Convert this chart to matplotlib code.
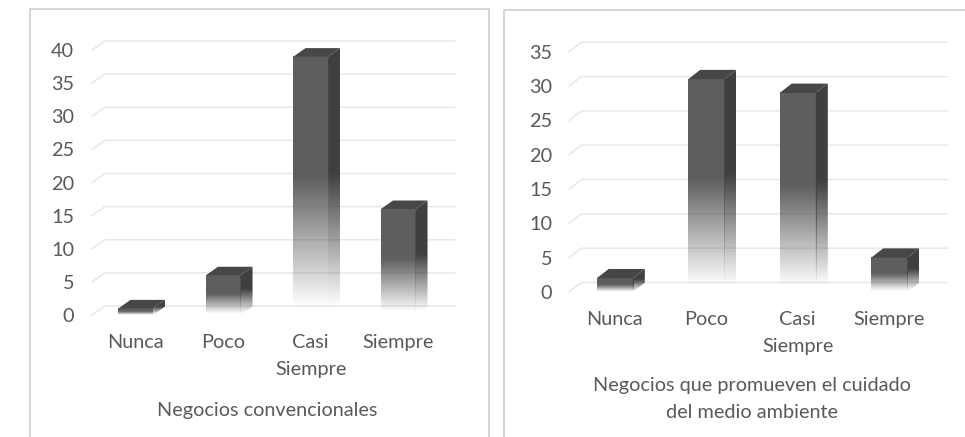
import matplotlib
matplotlib.use('Agg')
import matplotlib.pyplot as plt
import numpy as np
from matplotlib.patches import Polygon, Rectangle

# survey answers per business type
categories = ['Nunca', 'Poco', 'Casi\nSiempre', 'Siempre']
convencionales = [1, 6, 39, 16]
ambientales = [2, 31, 29, 5]
ticks_left = [0, 5, 10, 15, 20, 25, 30, 35, 40]
ticks_right = [0, 5, 10, 15, 20, 25, 30, 35]
title_left = 'Negocios convencionales'
title_right = 'Negocios que promueven el cuidado\ndel medio ambiente'

W, H, DPI = 965, 437, 100
plt.rcParams['font.family'] = ['Lato', 'DejaVu Sans']
TEXT = '#595959'
GRID = '#e6e6e6'
BORDER = '#d2d2d2'
FRONT = (0.37, 0.37, 0.37)
SIDE = (0.25, 0.25, 0.25)
TOP = (0.28, 0.28, 0.28)
FS = 14.3

fig = plt.figure(figsize=(W / DPI, H / DPI), dpi=DPI)


def px_rect(x0, y0, x1, y1):
    # pixel box (origin top-left) -> figure fraction rect
    return [x0 / W, 1 - y1 / H, (x1 - x0) / W, (y1 - y0) / H]


def fade(color, n=200):
    # solid on the upper half, fading out towards the floor
    t = np.linspace(0, 1, n)
    a = np.clip((t - 0.03) / 0.5, 0, 1)
    img = np.zeros((n, 1, 4))
    img[:, 0, :3] = color
    img[:, 0, 3] = a
    return img


def panel(front_px, ymax, values, ticks, title, floor_px, depth_px, tpad, lpad):
    fx0, fx1, fy0, fytop = front_px
    ppu = (fy0 - fytop) / ymax
    ppx = (fx1 - fx0) / len(values)
    ytop = ymax + 3
    ax = fig.add_axes(px_rect(fx0, fy0 - ytop * ppu, fx1, fy0))
    ax.set_facecolor('none')
    for s in ax.spines.values():
        s.set_visible(False)

    gdx, gdy = floor_px[0] / ppx, floor_px[1] / ppu
    bdx, bdy = depth_px[0] / ppx, depth_px[1] / ppu
    n = len(values)

    # back wall + floor edge gridlines
    for v in ticks:
        ax.plot([-0.5, -0.5 + gdx, n - 0.5 + gdx], [v, v + gdy, v + gdy],
                color=GRID, lw=1.0, clip_on=False, zorder=0.5)

    w = 0.395
    for i, v in enumerate(values):
        x0, x1 = i - w / 2, i + w / 2
        ax.imshow(fade(FRONT), extent=(x0, x1, 0, v), origin='lower',
                  aspect='auto', interpolation='bilinear', zorder=2)
        side = Polygon([(x1, 0), (x1 + bdx, bdy), (x1 + bdx, v + bdy), (x1, v)],
                       closed=True, fc='none', ec='none')
        ax.add_patch(side)
        im = ax.imshow(fade(SIDE), extent=(x1 - 0.01, x1 + bdx, 0, v + bdy),
                       origin='lower', aspect='auto', interpolation='bilinear',
                       zorder=2)
        im.set_clip_path(side)
        ax.add_patch(Polygon([(x0, v), (x1, v), (x1 + bdx, v + bdy), (x0 + bdx, v + bdy)],
                             closed=True, fc=TOP, ec='none', zorder=3))

    ax.set_xlim(-0.5, n - 0.5)
    ax.set_ylim(0, ytop)
    ax.set_yticks(ticks)
    ax.set_yticklabels([str(t) for t in ticks])
    ax.set_xticks(range(n))
    ax.set_xticklabels(categories, linespacing=1.7)
    ax.tick_params(length=0, labelsize=FS, labelcolor=TEXT)
    ax.tick_params(axis='y', pad=tpad)
    ax.tick_params(axis='x', pad=14)
    ax.set_xlabel(title, fontsize=FS, color=TEXT, labelpad=lpad, linespacing=1.7)
    return ax


def frame(x0, y0, x1, y1):
    r = px_rect(x0, y0, x1, y1)
    fig.add_artist(Rectangle(r[:2], r[2], r[3], transform=fig.transFigure,
                             fill=False, ec=BORDER, lw=1.3))


frame(29.5, 8.5, 489, 440)
frame(504.5, 9.5, 970, 440)

panel((92, 442, 315, 50), 40, convencionales, ticks_left, title_left,
      (13, 9), (12, 8.5), 13, 17)
panel((569, 935, 292, 51.7), 35, ambientales, ticks_right, title_right,
      (12.5, 9.5), (12, 9.3), 12, 16)

fig.savefig('out.png', dpi=DPI)
